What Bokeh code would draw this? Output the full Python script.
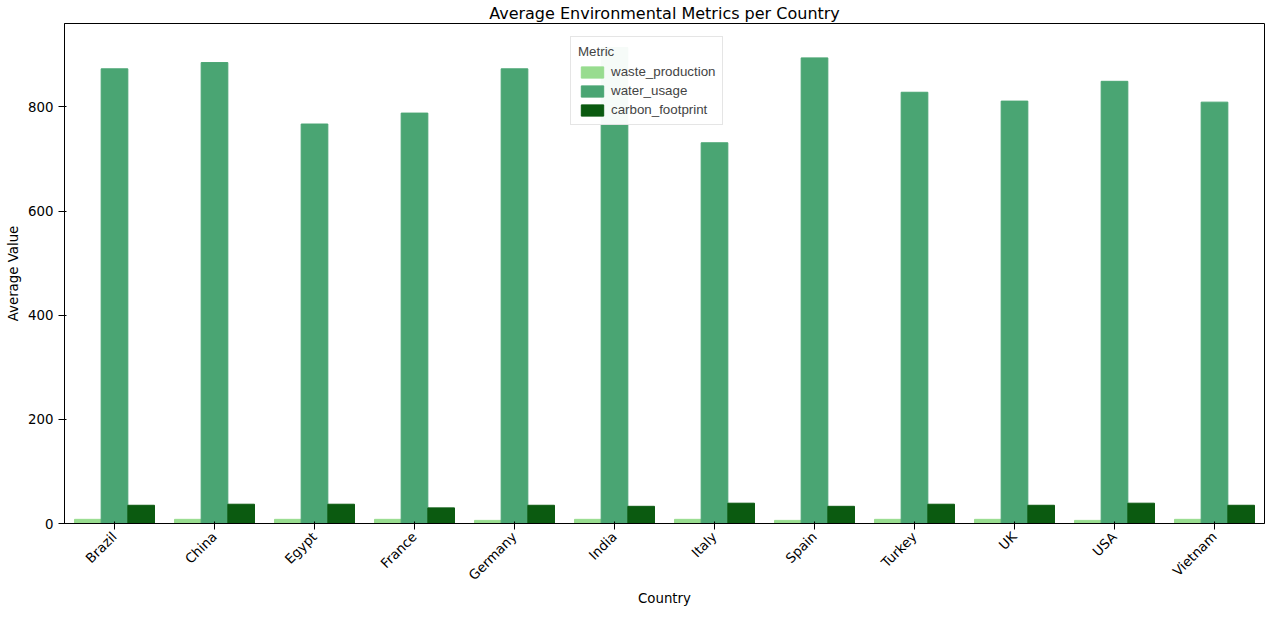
from bokeh.plotting import figure
from bokeh.models import ColumnDataSource, FactorRange, Legend, LegendItem
from bokeh.transform import dodge
from bokeh.embed import file_html
from bokeh.resources import INLINE

countries = ["Brazil","China","Egypt","France","Germany","India","Italy","Spain","Turkey","UK","USA","Vietnam"]
waste_production = [8,8,8,8,6,8,8,6,8,8,6,8]
water_usage = [873,885,767,788,873,914,731,894,828,811,849,809]
carbon_footprint = [35,37,37,30,35,33,39,33,37,35,39,35]

src = ColumnDataSource(dict(c=countries, w=waste_production, u=water_usage, f=carbon_footprint))
p = figure(x_range=FactorRange(*countries, range_padding=0),
           y_range=(0, 960), width=1266, height=609, output_backend="svg", toolbar_location=None,
           title="Average Environmental Metrics per Country", min_border_left=64, min_border_right=2,
           min_border_top=0, min_border_bottom=0)
p.title.align = "center"; p.title.text_font_style = "normal"; p.title.text_font_size = "12pt"
p.title.text_font = "DejaVu Sans"; p.title.text_color = "black"; p.title.standoff = 2
bw = 0.8/3
cols = ["#98dc8f", "#4aa573", "#0b5a10"]
r1 = p.vbar(x=dodge("c", -bw, range=p.x_range), top="w", width=bw, color=cols[0], source=src)
r2 = p.vbar(x=dodge("c", 0, range=p.x_range), top="u", width=bw, color=cols[1], source=src)
r3 = p.vbar(x=dodge("c", bw, range=p.x_range), top="f", width=bw, color=cols[2], source=src)
p.xgrid.visible = False; p.ygrid.visible = False
p.outline_line_color = "black"
p.xaxis.axis_label = "Country"; p.yaxis.axis_label = "Average Value"
for ax in (p.xaxis, p.yaxis):
    ax.axis_label_text_font_style = "normal"; ax.axis_label_text_font_size = "10pt"
    ax.major_label_text_font_size = "10pt"; ax.axis_label_text_font = "DejaVu Sans"
    ax.major_label_text_font = "DejaVu Sans"; ax.minor_tick_line_color = None
    ax.major_label_text_color = "black"; ax.axis_label_text_color = "black"
    ax.axis_label_standoff = 4
p.xaxis.major_label_orientation = 0.785
p.xaxis.axis_label_standoff = 0
p.yaxis.ticker = [0,200,400,600,800]
leg = Legend(items=[LegendItem(label="waste_production", renderers=[r1]),
                    LegendItem(label="water_usage", renderers=[r2]),
                    LegendItem(label="carbon_footprint", renderers=[r3])],
             title="Metric", location=(506, 398), label_text_font_size="10pt",
             title_text_font_size="10pt", title_text_font_style="normal",
             border_line_color="#cccccc", glyph_height=14, glyph_width=28,
             label_height=14, spacing=4, padding=7)
p.add_layout(leg, "center")
open("out.html", "w").write(file_html(p, INLINE))
